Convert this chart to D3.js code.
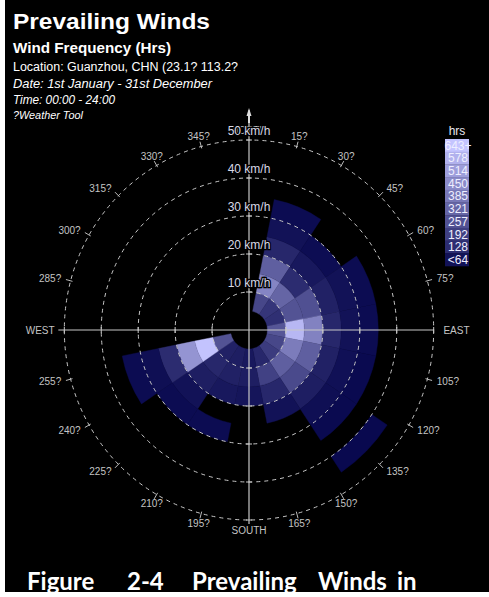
<!DOCTYPE html>
<html>
<head>
<meta charset="utf-8">
<script src="https://cdn.jsdelivr.net/npm/d3@7"></script>
<style>
  html, body { margin: 0; padding: 0; background: #fff; }
  svg { display: block; }
</style>
</head>
<body>
<div id="chart"></div>
<script>
// ---- data ----------------------------------------------------------------
var directions = ['N', 'NNE', 'NE', 'ENE', 'E', 'ESE', 'SE', 'SSE',
                  'S', 'SSW', 'SW', 'WSW', 'W', 'WNW', 'NW', 'NNW'];
var directionAngles = [0, 22.5, 45, 67.5, 90, 112.5, 135, 157.5,
                       180, 202.5, 225, 247.5, 270, 292.5, 315, 337.5];
// lower edge of each speed bin (km/h), bins are 5 km/h wide
var speedBins = [5, 10, 15, 20, 25, 30, 35, 40, 45];
// hours per direction (rows) and speed bin (columns)
var hours = [
  [0,   0,   0,   0,   0,  0,  0,  0,  0],   // N
  [220, 430, 300, 110, 40, 20, 0,  0,  0],   // NNE
  [160, 320, 130, 60,  25, 0,  0,  0,  0],   // NE
  [140, 260, 250, 90,  40, 20, 0,  0,  0],   // ENE
  [270, 600, 420, 110, 40, 20, 0,  0,  0],   // E
  [220, 400, 300, 90,  35, 15, 0,  0,  0],   // ESE
  [180, 300, 230, 80,  30, 15, 0,  10, 0],   // SE
  [110, 200, 110, 40,  0,  0,  0,  0,  0],   // SSE
  [60,  80,  50,  0,   0,  0,  0,  0,  0],   // S
  [80,  90,  60,  0,   20, 0,  0,  0,  0],   // SSW
  [90,  110, 80,  40,  20, 0,  0,  0,  0],   // SW
  [260, 640, 480, 130, 30, 20, 0,  0,  0],   // WSW
  [0,   0,   0,   0,   0,  0,  0,  0,  0],   // W
  [0,   0,   0,   0,   0,  0,  0,  0,  0],   // WNW
  [0,   0,   0,   0,   0,  0,  0,  0,  0],   // NW
  [0,   0,   0,   0,   0,  0,  0,  0,  0]    // NNW
];
var ringSpeeds = [10, 20, 30, 40, 50];
var compassBearings = d3.range(0, 360, 15);
var cardinalNames = { 0: 'NORTH', 90: 'EAST', 180: 'SOUTH', 270: 'WEST' };
var legendLabels = ['643+', '578', '514', '450', '385', '321', '257', '192', '128', '<64'];
var legendValues = [643, 578, 514, 450, 385, 321, 257, 192, 128, 40];
var titleLines = [
  { text: 'Prevailing Winds', size: 22, weight: 'bold', style: 'normal', y: 29, len: 197 },
  { text: 'Wind Frequency (Hrs)', size: 15, weight: 'bold', style: 'normal', y: 53, len: 158 },
  { text: 'Location: Guanzhou, CHN (23.1? 113.2?', size: 12, weight: 'normal', style: 'normal', y: 71, len: 225 },
  { text: 'Date: 1st January - 31st December', size: 12, weight: 'normal', style: 'italic', y: 88, len: 199 },
  { text: 'Time: 00:00 - 24:00', size: 12, weight: 'normal', style: 'italic', y: 104, len: 102 },
  { text: '?Weather Tool', size: 10, weight: 'normal', style: 'italic', y: 119, len: 70 }
];
var captionWords = ['Figure', '2-4', 'Prevailing', 'Winds', 'in'];
var captionX = [27, 127, 192, 318, 397];

// ---- layout ---------------------------------------------------------------
var W = 489, H = 597;
var cx = 249, cy = 330;
var sx = 0.972;           // the rose is slightly narrower than tall

var svg = d3.select('#chart').append('svg')
    .attr('width', W).attr('height', H)
    .style('font-family', 'Liberation Sans, Arial, sans-serif');

svg.append('rect').attr('width', W).attr('height', H).attr('fill', '#fff');
svg.append('rect').attr('x', 5).attr('y', 0).attr('width', W - 5).attr('height', 592).attr('fill', '#000');

var r = d3.scaleLinear().domain([0, 50]).range([0, 190]);
var color = d3.scaleLinear().domain([0, 643]).range(['#06064c', '#c4c4ff']).clamp(true);

function px(bearing, rad) { return cx + sx * rad * Math.sin(bearing * Math.PI / 180); }
function py(bearing, rad) { return cy - rad * Math.cos(bearing * Math.PI / 180); }

var rose = svg.append('g').attr('transform', 'translate(' + cx + ',' + cy + ') scale(' + sx + ',1)');

// cells
var cells = [];
hours.forEach(function (row, i) {
  row.forEach(function (v, j) {
    if (v > 0) cells.push({ dir: directionAngles[i], lo: speedBins[j], v: v });
  });
});
var arc = d3.arc()
    .innerRadius(function (d) { return r(d.lo); })
    .outerRadius(function (d) { return r(d.lo + 5); })
    .startAngle(function (d) { return (d.dir - 11.25) * Math.PI / 180; })
    .endAngle(function (d) { return (d.dir + 11.25) * Math.PI / 180; });

rose.append('g').selectAll('path').data(cells).join('path')
    .attr('d', arc)
    .attr('fill', function (d) { return color(d.v); })
    .attr('stroke', function (d) { return color(d.v); })
    .attr('stroke-width', 0.4);

// dashed speed rings
rose.append('g').selectAll('circle').data(ringSpeeds).join('circle')
    .attr('r', function (d) { return r(d); })
    .attr('fill', 'none')
    .attr('stroke', '#c8c8c8')
    .attr('stroke-width', 1)
    .attr('vector-effect', 'non-scaling-stroke')
    .attr('stroke-dasharray', '4,4');

// axes
var axisColor = '#c8c8c8';
svg.append('line').attr('x1', cx).attr('x2', cx).attr('y1', 110).attr('y2', cy + r(50) + 4)
    .attr('stroke', axisColor).attr('stroke-width', 1.2);
svg.append('line').attr('x1', px(270, r(50)) - 6).attr('x2', px(90, r(50))).attr('y1', cy).attr('y2', cy)
    .attr('stroke', axisColor).attr('stroke-width', 1.2);
svg.append('path')
    .attr('d', 'M' + cx + ',108 L' + (cx - 2.5) + ',116 L' + (cx - 1) + ',116 L' + (cx - 1) + ',123 L' + (cx + 1) + ',123 L' + (cx + 1) + ',116 L' + (cx + 2.5) + ',116 Z')
    .attr('fill', '#ddd');

// axis ticks where rings cross
var axisTicks = [];
ringSpeeds.forEach(function (s) {
  [0, 90, 180, 270].forEach(function (b) { axisTicks.push({ b: b, s: s }); });
});
svg.append('g').selectAll('line').data(axisTicks).join('line')
    .attr('x1', function (d) { return px(d.b, r(d.s)) - (d.b % 180 === 0 ? 3 : 0); })
    .attr('x2', function (d) { return px(d.b, r(d.s)) + (d.b % 180 === 0 ? 3 : 0); })
    .attr('y1', function (d) { return py(d.b, r(d.s)) - (d.b % 180 === 0 ? 0 : 3); })
    .attr('y2', function (d) { return py(d.b, r(d.s)) + (d.b % 180 === 0 ? 0 : 3); })
    .attr('stroke', axisColor);

// compass ticks and labels
var outerR = r(50);
svg.append('g').selectAll('line').data(compassBearings.filter(function (b) { return b % 90 !== 0; })).join('line')
    .attr('x1', function (d) { return px(d, outerR - 2); })
    .attr('y1', function (d) { return py(d, outerR - 2); })
    .attr('x2', function (d) { return px(d, outerR + 5); })
    .attr('y2', function (d) { return py(d, outerR + 5); })
    .attr('stroke', '#bbb');

svg.append('g').selectAll('text').data(compassBearings).join('text')
    .attr('x', function (d) { return px(d, outerR + 10); })
    .attr('y', function (d) { return py(d, outerR + 10); })
    .attr('dy', '0.35em')
    .attr('text-anchor', function (d) {
      var s = Math.sin(d * Math.PI / 180);
      return s > 0.6 ? 'start' : (s < -0.6 ? 'end' : 'middle');
    })
    .attr('font-size', 10)
    .attr('fill', '#c4c4c4')
    .text(function (d) { return cardinalNames[d] || (d + '?'); });

// speed labels
svg.append('g').selectAll('text').data(ringSpeeds).join('text')
    .attr('x', cx)
    .attr('y', function (d) { return cy - r(d) - 9.5; })
    .attr('dy', '0.35em')
    .attr('text-anchor', 'middle')
    .attr('font-size', 12)
    .attr('fill', '#d8d8e6')
    .attr('stroke', '#000')
    .attr('stroke-width', 2.5)
    .attr('paint-order', 'stroke')
    .text(function (d) { return d + ' km/h'; });

// legend
var legX = 445, legY = 139, legW = 24, legH = 12.7;
var legend = svg.append('g');
legend.append('text').attr('x', legX + legW / 2).attr('y', legY - 4)
    .attr('text-anchor', 'middle').attr('font-size', 12).attr('fill', '#e8e8f0').text('hrs');
legend.selectAll('rect').data(legendValues).join('rect')
    .attr('x', legX)
    .attr('y', function (d, i) { return legY + i * legH; })
    .attr('width', legW)
    .attr('height', legH + 0.3)
    .attr('fill', function (d) { return color(d); });
legend.selectAll('text.lab').data(legendLabels).join('text')
    .attr('class', 'lab')
    .attr('x', legX + legW / 2 + 1)
    .attr('y', function (d, i) { return legY + i * legH + legH / 2; })
    .attr('dy', '0.36em')
    .attr('text-anchor', 'middle')
    .attr('font-size', 12)
    .attr('fill', '#eeeeff')
    .text(function (d) { return d; });

// titles
svg.append('g').selectAll('text').data(titleLines).join('text')
    .attr('x', 13)
    .attr('y', function (d) { return d.y; })
    .attr('font-size', function (d) { return d.size; })
    .attr('font-weight', function (d) { return d.weight; })
    .attr('font-style', function (d) { return d.style; })
    .attr('textLength', function (d) { return d.len; })
    .attr('lengthAdjust', 'spacingAndGlyphs')
    .attr('fill', '#fff')
    .text(function (d) { return d.text; });

// caption (cut at the bottom like the page it was taken from)
svg.append('g').selectAll('text').data(captionWords).join('text')
    .attr('x', function (d, i) { return captionX[i]; })
    .attr('y', 590)
    .attr('font-family', 'Lato, sans-serif')
    .attr('font-weight', 'bold')
    .attr('font-size', 24)
    .attr('fill', '#fff')
    .text(function (d) { return d; });
svg.append('rect').attr('x', 0).attr('y', 592).attr('width', W).attr('height', H - 592).attr('fill', '#fff');
</script>
</body>
</html>
